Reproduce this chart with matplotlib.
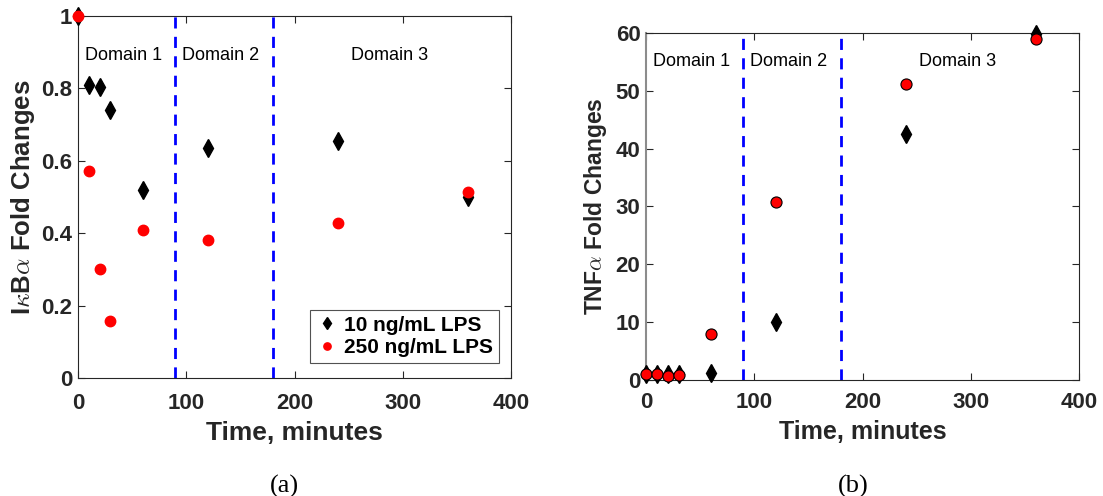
import numpy as np
import matplotlib.pyplot as plt

plt.rcParams['font.family'] = ['Liberation Sans', 'DejaVu Sans']
plt.rcParams['mathtext.fontset'] = 'cm'

# time points (minutes)
t = [0, 10, 20, 30, 60, 120, 240, 360]

# IkBa fold changes
ikb_10 = [1.0, 0.81, 0.805, 0.74, 0.52, 0.635, 0.655, 0.50]
ikb_250 = [1.0, 0.573, 0.30, 0.157, 0.41, 0.382, 0.427, 0.515]

# TNFa fold changes
tnf_10 = [1.0, 1.0, 1.0, 1.0, 1.2, 10.0, 42.6, 59.8]
tnf_250 = [1.0, 1.0, 0.7, 0.8, 8.0, 30.8, 51.1, 58.9]

domain_bounds = [90, 180]
domain_labels = ['Domain 1', 'Domain 2', 'Domain 3']
domain_x = [42, 132, 288]

tick_color = '#262626'

fig = plt.figure(figsize=(11.03, 4.96), dpi=100)
ax1 = fig.add_axes([0.0707, 0.2379, 0.3926, 0.730])
ax2 = fig.add_axes([0.5857, 0.2339, 0.3926, 0.6996])


def style_axes(ax, ylim, yticks, tick_size, xlab_size, xpad):
    ax.set_xlim(0, 400)
    ax.set_ylim(*ylim)
    ax.set_xticks([0, 100, 200, 300, 400])
    ax.set_yticks(yticks)
    ax.tick_params(direction='in', top=True, right=True, length=5, width=0.8,
                   labelsize=tick_size, colors=tick_color, pad=4)
    ax.tick_params(axis='x', pad=xpad)
    for sp in ax.spines.values():
        sp.set_color(tick_color)
        sp.set_linewidth(0.8)
    ax.set_xlabel('Time, minutes', fontsize=xlab_size, fontweight='bold',
                  color=tick_color, labelpad=5)
    for xb in domain_bounds:
        ax.axvline(xb, color='#0000ff', linestyle=(0, (4, 3)), linewidth=2)


# (a) IkBa
style_axes(ax1, (0, 1), [0, 0.2, 0.4, 0.6, 0.8, 1], 16, 19, 11)
ax1.set_yticklabels(['0', '0.2', '0.4', '0.6', '0.8', '1'])
for lbl in ax1.get_xticklabels() + ax1.get_yticklabels():
    lbl.set_fontweight('bold')
ax1.plot(t, ikb_10, linestyle='none', marker='d', markersize=9,
         color='black', label='10 ng/mL LPS', clip_on=False, zorder=3)
ax1.plot(t, ikb_250, linestyle='none', marker='o', markersize=7.5,
         color='red', label='250 ng/mL LPS', clip_on=False, zorder=4)
ax1.set_ylabel(r'I$\kappa$B$\alpha$ Fold Changes', fontsize=18.5,
               fontweight='bold', color=tick_color, labelpad=3)
for x, lab in zip(domain_x, domain_labels):
    ax1.text(x, 0.89, lab, ha='center', va='center', fontsize=13)
leg = ax1.legend(loc='lower right', bbox_to_anchor=(0.972, 0.041),
                 prop={'weight': 'bold', 'size': 15}, markerscale=0.7,
                 frameon=True, fancybox=False, edgecolor=tick_color,
                 handletextpad=0.3, borderaxespad=0, handlelength=1.0,
                 labelspacing=0.15, borderpad=0.3)
leg.get_frame().set_linewidth(0.8)

# (b) TNFa
style_axes(ax2, (0, 60), [0, 10, 20, 30, 40, 50, 60], 16, 18, 9)
for lbl in ax2.get_xticklabels() + ax2.get_yticklabels():
    lbl.set_fontweight('bold')
ax2.spines['left'].set_color('#8c8c8c')
ax2.spines['left'].set_linewidth(1.5)
ax2.plot(t, tnf_10, linestyle='none', marker='d', markersize=9,
         color='black', clip_on=False, zorder=3)
ax2.plot(t, tnf_250, linestyle='none', marker='o', markersize=8,
         markerfacecolor='red', markeredgecolor='black', markeredgewidth=0.8,
         clip_on=False, zorder=4)
ax2.set_ylabel(r'TNF$\alpha$ Fold Changes', fontsize=16.5,
               fontweight='bold', color=tick_color, labelpad=5)
for x, lab in zip(domain_x, domain_labels):
    ax2.text(x, 55, lab, ha='center', va='center', fontsize=13)

fig.text(0.2575, 0.02, '(a)', ha='center', va='center', fontsize=19,
         family=['Liberation Serif', 'DejaVu Serif'])
fig.text(0.774, 0.02, '(b)', ha='center', va='center', fontsize=19,
         family=['Liberation Serif', 'DejaVu Serif'])

fig.savefig('out.png', dpi=100)
